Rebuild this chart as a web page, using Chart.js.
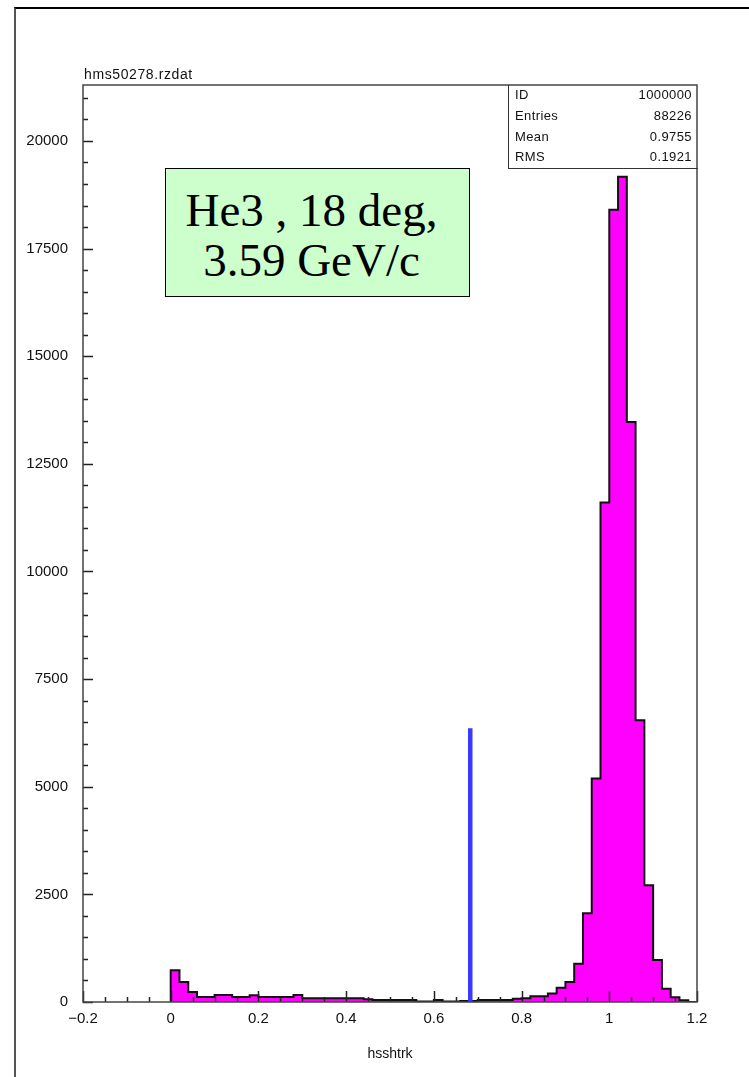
<!DOCTYPE html>
<html>
<head>
<meta charset="utf-8">
<script src="https://cdn.jsdelivr.net/npm/chart.js@4/dist/chart.umd.min.js"></script>
<style>
  body { margin: 0; background: #fff; }
  #page { position: relative; width: 749px; height: 1077px; overflow: hidden; font-family: "Liberation Sans", Arial, sans-serif; }
  #cadrePage { position: absolute; left: 14px; top: 7px; width: 900px; height: 1200px; border-left: 2px solid #555; border-top: 2px solid #000; }
  #graph { position: absolute; left: 0; top: 0; }
  #titre { position: absolute; left: 84px; top: 66px; font-size: 14px; letter-spacing: 0.6px; color: #111; }
  #stats { position: absolute; left: 508px; top: 85px; width: 189px; border-left: 1.5px solid #333; border-bottom: 1.5px solid #333; font-size: 13px; color: #111; }
  #stats div { display: flex; justify-content: space-between; height: 20.75px; line-height: 20.75px; padding: 0 6px 0 6px; letter-spacing: 0.4px; }
  #etiquette { position: absolute; left: 165px; top: 168px; width: 303px; height: 127px; border: 1px solid #000; background: #ccffcc;
    font-family: "Liberation Serif", "Times New Roman", serif; font-size: 47px; line-height: 46px; text-align: center;
    display: flex; flex-direction: column; justify-content: center; color: #000; box-sizing: content-box; }
  #etiquette div { padding: 4px 12px 0 0; }
</style>
</head>
<body>
<div id="page">
  <div id="cadrePage"></div>
  <canvas id="graph" width="749" height="1077"></canvas>
  <div id="titre">hms50278.rzdat</div>
  <div id="stats"></div>
  <div id="etiquette"></div>
</div>
<script>
// histogramme hsshtrk, bins de 0.02 en partant de 0
const binStart = 0;
const binWidth = 0.02;
const counts = [735, 464, 232, 116, 116, 162, 162, 116, 116, 155,
                116, 116, 116, 116, 162, 85, 85, 85, 85, 85,
                85, 85, 62, 46, 46, 46, 46, 46, 10, 10,
                46, 10, 10, 23, 23, 46, 46, 46, 46, 77,
                85, 131, 131, 200, 333, 464, 890, 2060, 5190, 11600,
                18400, 19170, 13470, 6545, 2710, 975, 310, 110, 40, 0];

// coupure (trait bleu)
const cutPos = 0.683;
const cutHeight = 6360;

const xTicks = [-0.2, 0, 0.2, 0.4, 0.6, 0.8, 1, 1.2];
const yTicks = [0, 2500, 5000, 7500, 10000, 12500, 15000, 17500, 20000];

const statNames = ['ID', 'Entries', 'Mean', 'RMS'];
const statValues = ['1000000', '88226', '0.9755', '0.1921'];
const labelLines = ['He3 , 18 deg,', ' 3.59 GeV/c'];

// boites de texte
document.getElementById('stats').innerHTML = statNames
  .map((n, i) => '<div><span>' + n + '</span><span>' + statValues[i] + '</span></div>').join('');
document.getElementById('etiquette').innerHTML = labelLines.map(l => '<div>' + l + '</div>').join('');

// points du contour en escalier
const histPoints = [{ x: binStart, y: 0 }];
counts.forEach((c, i) => histPoints.push({ x: binStart + i * binWidth, y: c }));
histPoints.push({ x: binStart + counts.length * binWidth, y: 0 });

// cadre + petites graduations vers l'interieur (style PAW)
const cadre = {
  id: 'cadre',
  afterDatasetsDraw(chart) {
    const { ctx, chartArea: a, scales: { x, y } } = chart;
    ctx.save();
    ctx.strokeStyle = '#222';
    ctx.lineWidth = 1.5;
    ctx.beginPath();
    for (let v = 0; v <= y.max; v += 500) {
      const py = Math.round(y.getPixelForValue(v)) + 0.5;
      const len = v % 2500 === 0 ? 10 : 5;
      ctx.moveTo(a.left, py);
      ctx.lineTo(a.left + len, py);
    }
    for (let k = -4; k <= 24; k++) {
      const px = Math.round(x.getPixelForValue(k * 0.05)) + 0.5;
      const len = k % 4 === 0 ? 11 : 5;
      ctx.moveTo(px, a.bottom);
      ctx.lineTo(px, a.bottom - len);
    }
    ctx.stroke();
    ctx.strokeStyle = '#444';
    ctx.strokeRect(a.left, a.top, a.right - a.left, a.bottom - a.top);
    ctx.restore();
  }
};

const tickFont = { family: '"Liberation Sans", Arial, sans-serif', size: 15 };

new Chart(document.getElementById('graph'), {
  type: 'line',
  data: {
    datasets: [
      {
        data: [{ x: cutPos, y: 0 }, { x: cutPos, y: cutHeight }],
        borderColor: '#3838ff',
        borderWidth: 4.5,
        pointRadius: 0,
        fill: false
      },
      {
        data: histPoints,
        stepped: 'before',
        borderColor: '#111',
        borderWidth: 2,
        backgroundColor: '#ff00ff',
        fill: 'origin',
        pointRadius: 0
      }
    ]
  },
  options: {
    responsive: false,
    animation: false,
    devicePixelRatio: 1,
    layout: { padding: { left: 0, right: 52, top: 85, bottom: 0 } },
    plugins: { legend: { display: false }, tooltip: { enabled: false } },
    scales: {
      x: {
        type: 'linear',
        min: -0.2,
        max: 1.2,
        afterBuildTicks: s => { s.ticks = xTicks.map(v => ({ value: v })); },
        afterFit: s => { s.height = 75; },
        grid: { display: false, drawTicks: false },
        border: { display: false },
        ticks: {
          padding: 8,
          color: '#111',
          font: tickFont,
          maxRotation: 0,
          callback: v => (v < 0 ? '\u2212' : '') + String(Math.abs(Math.round(v * 10) / 10))
        },
        title: {
          display: true,
          text: 'hsshtrk',
          color: '#111',
          font: { family: '"Liberation Sans", Arial, sans-serif', size: 14 },
          padding: { top: 0, bottom: 14 }
        }
      },
      y: {
        min: 0,
        max: 21300,
        afterBuildTicks: s => { s.ticks = yTicks.map(v => ({ value: v })); },
        afterFit: s => { s.width = 83; },
        grid: { display: false, drawTicks: false },
        border: { display: false },
        ticks: { padding: 15, color: '#111', font: tickFont, callback: v => String(v) }
      }
    }
  },
  plugins: [cadre]
});
</script>
</body>
</html>
